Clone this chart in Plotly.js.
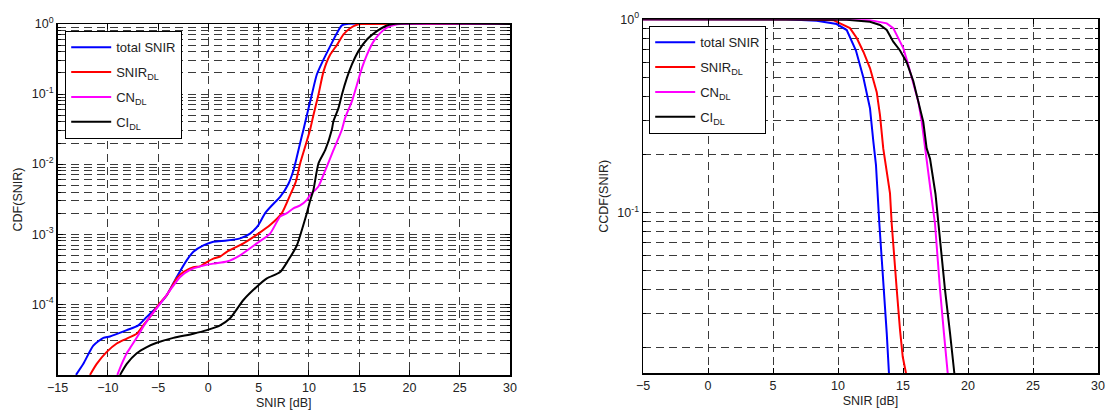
<!DOCTYPE html>
<html>
<head>
<meta charset="utf-8">
<script src="https://cdn.plot.ly/plotly-3.0.1.min.js"></script>
<style>html,body{margin:0;padding:0;background:#fff;}#chart{width:1107px;height:412px;}</style>
</head>
<body>
<div id="chart"></div>
<script>
// ---------- Left panel: CDF ----------
const cdfTotalX = [-13.16,-12.43,-11.44,-10.44,-9.78,-8.11,-6.96,-6.12,-5.13,-4.13,-3.14,-2.14,-1.49,-0.49,0.50,1.84,3.16,4.15,4.98,5.65,6.31,7.14,7.96,8.46,8.80,9.13,9.46,9.80,10.29,10.79,11.45,12.11,12.78,13.28,13.78,30];
const cdfTotalY = [9.8e-6,1.41e-5,2.57e-5,3.31e-5,3.47e-5,4.27e-5,5.0e-5,6.6e-5,9.1e-5,1.35e-4,2.45e-4,4.27e-4,5.6e-4,6.9e-4,7.8e-4,8.1e-4,8.7e-4,1.02e-3,1.35e-3,2.0e-3,2.57e-3,3.4e-3,5.2e-3,8.1e-3,0.0126,0.020,0.031,0.050,0.098,0.19,0.31,0.48,0.74,0.955,1,1];

const cdfSnirX = [-11.77,-11.10,-10.10,-9.11,-8.11,-7.12,-6.46,-5.80,-4.97,-4.13,-3.14,-2.48,-1.49,-0.82,-0.15,0.50,1.17,1.84,3.49,4.98,6.14,7.31,8.13,8.70,9.13,9.63,10.12,10.45,10.95,11.45,12.11,12.78,13.44,14.10,14.77,15.27,30];
const cdfSnirY = [9.8e-6,1.41e-5,2.09e-5,2.75e-5,3.24e-5,3.8e-5,5.0e-5,6.6e-5,9.8e-5,1.35e-4,2.34e-4,2.88e-4,3.39e-4,3.47e-4,4.0e-4,4.47e-4,4.8e-4,5.6e-4,7.4e-4,1.02e-3,1.35e-3,2.0e-3,3.6e-3,5.6e-3,0.0102,0.0178,0.031,0.050,0.098,0.209,0.363,0.50,0.71,0.87,0.977,1,1];

const cdfCnX = [-9.05,-8.61,-8.11,-7.62,-6.96,-6.46,-5.80,-4.78,-3.81,-2.81,-1.82,-0.82,0.50,1.84,3.16,4.82,6.14,7.14,7.81,8.46,9.13,9.80,10.12,10.95,11.62,12.44,13.28,13.61,14.28,14.77,15.27,15.77,16.42,17.09,17.76,18.58,19.08,30];
const cdfCnY = [9.8e-6,1.41e-5,2.0e-5,2.57e-5,3.63e-5,4.8e-5,6.6e-5,1.02e-4,1.58e-4,2.45e-4,3.09e-4,3.47e-4,3.8e-4,4.07e-4,5.0e-4,7.4e-4,1.02e-3,1.78e-3,2.0e-3,2.34e-3,2.57e-3,3.09e-3,3.63e-3,4.8e-3,8.1e-3,0.0158,0.031,0.046,0.079,0.135,0.234,0.363,0.56,0.74,0.89,0.977,1,1];

const cdfCiX = [-8.78,-8.11,-7.12,-6.12,-5.13,-3.48,-1.49,-0.15,1.17,2.16,3.49,4.82,5.82,7.14,7.96,8.80,9.30,9.80,10.12,10.45,10.95,11.62,12.28,12.44,12.94,13.28,13.78,14.27,14.93,15.77,16.76,17.59,18.41,30];
const cdfCiY = [9.8e-6,1.41e-5,2.0e-5,2.45e-5,2.82e-5,3.31e-5,3.8e-5,4.27e-5,5.0e-5,6.3e-5,1.15e-4,1.78e-4,2.34e-4,2.88e-4,4.27e-4,6.9e-4,1.15e-3,2.0e-3,3.0e-3,4.27e-3,0.0102,0.0158,0.031,0.041,0.063,0.098,0.17,0.263,0.41,0.60,0.79,0.93,1,1];

// ---------- Right panel: CCDF ----------
const ccdfTotalX = [-5,6.0,8.36,9.90,10.67,11.38,11.95,12.46,12.72,12.92,13.18,13.36,13.56,13.75,13.92,14.0];
const ccdfTotalY = [1,1,0.984,0.945,0.88,0.69,0.50,0.347,0.233,0.177,0.088,0.059,0.040,0.0238,0.0148,0.0121];

const ccdfSnirX = [-5,7.0,9.64,10.92,11.44,11.95,12.46,12.98,13.23,13.48,13.75,14.0,14.13,14.31,14.52,14.77,14.98,15.23];
const ccdfSnirY = [1,1,0.99,0.90,0.80,0.68,0.56,0.42,0.32,0.215,0.163,0.126,0.088,0.059,0.040,0.0248,0.018,0.0148];

const ccdfCnX = [-5,10.0,12.46,13.75,14.25,14.64,15.02,15.41,15.79,16.18,16.44,16.69,16.90,17.12,17.46,17.64,17.85,18.15,18.44];
const ccdfCnY = [1,1,0.99,0.953,0.90,0.80,0.71,0.58,0.475,0.375,0.296,0.224,0.177,0.131,0.088,0.059,0.040,0.0238,0.0148];

const ccdfCiX = [-5,9.0,10.67,12.46,13.23,13.75,14.25,14.77,15.28,15.79,16.18,16.56,16.82,17.08,17.50,17.72,17.98,18.23,18.62,18.95];
const ccdfCiY = [1,1,0.995,0.972,0.935,0.88,0.766,0.69,0.60,0.48,0.375,0.295,0.215,0.19,0.125,0.088,0.059,0.040,0.0238,0.0148];

const seriesNames = ['total SNIR','SNIR<sub>DL</sub>','CN<sub>DL</sub>','CI<sub>DL</sub>'];
const seriesColors = ['#0000ff','#ff0000','#ff00ff','#000000'];

const leftTickVals = [1e-4,1e-3,1e-2,1e-1,1];
const leftTickText = ['10<sup>-4</sup>','10<sup>-3</sup>','10<sup>-2</sup>','10<sup>-1</sup>','10<sup>0</sup>'];
const rightTickVals = [1e-1,1];
const rightTickText = ['10<sup>-1</sup>','10<sup>0</sup>'];

function minorVals(lo, hi){
  const v=[];
  for(let e=lo;e<hi;e++){ for(let m=2;m<=9;m++){ v.push(m*Math.pow(10,e)); } }
  return v;
}

const leftData = [[cdfTotalX,cdfTotalY],[cdfSnirX,cdfSnirY],[cdfCnX,cdfCnY],[cdfCiX,cdfCiY]];
const rightData = [[ccdfTotalX,ccdfTotalY],[ccdfSnirX,ccdfSnirY],[ccdfCnX,ccdfCnY],[ccdfCiX,ccdfCiY]];

const traces = [];
leftData.forEach((d,i)=>{
  traces.push({x:d[0], y:d[1], xaxis:'x', yaxis:'y', type:'scatter', mode:'lines',
    name:seriesNames[i], legend:'legend', legendgroup:'L'+i,
    line:{color:seriesColors[i], width:2, shape:'spline', smoothing:0.6}});
});
rightData.forEach((d,i)=>{
  traces.push({x:d[0], y:d[1], xaxis:'x2', yaxis:'y2', type:'scatter', mode:'lines',
    name:seriesNames[i], legend:'legend2', legendgroup:'R'+i,
    line:{color:seriesColors[i], width:2}});
});

const gridCol = '#3a3a3a';
const gridDash = '8px,5px';
const fontFam = '"Liberation Sans", Arial, sans-serif';

function xAxis(domain, range, anchor, tv){
  return {domain:domain, range:range, anchor:anchor, tickvals:tv,
    ticks:'inside', ticklen:5, tickcolor:'#000', showline:true, linecolor:'#000', linewidth:1.5,
    mirror:'ticks', showgrid:true, gridcolor:gridCol, griddash:gridDash, gridwidth:1,
    zeroline:false, automargin:false, tickfont:{size:12.5, color:'#222'},
    title:{text:'SNIR [dB]', font:{size:12.5, color:'#222'}, standoff:4}};
}
function yAxis(domain, range, anchor, tv, tt, mv, title){
  return {domain:domain, type:'log', range:range, anchor:anchor, tickvals:tv, ticktext:tt,
    ticks:'inside', ticklen:5, tickcolor:'#000', showline:true, linecolor:'#000', linewidth:1.5,
    mirror:'ticks', showgrid:true, gridcolor:gridCol, griddash:gridDash, gridwidth:1,
    zeroline:false, automargin:false, tickfont:{size:12.5, color:'#222'},
    minor:{tickvals:mv, ticks:'inside', ticklen:3, tickcolor:'#000', showgrid:true,
      gridcolor:gridCol, griddash:gridDash, gridwidth:1},
    title:{text:title, font:{size:12.5, color:'#222'}, standoff:6}};
}

function legendBox(x, y){
  return {x:x, y:y, xanchor:'left', yanchor:'top', bgcolor:'#fff',
    bordercolor:'#000', borderwidth:1.2, font:{size:13, color:'#222'},
    tracegroupgap:5, itemwidth:40};
}

const layout = {
  width:1107, height:412,
  margin:{l:0,r:0,t:0,b:0},
  paper_bgcolor:'#fff', plot_bgcolor:'#fff',
  font:{family:fontFam, size:12, color:'#222'},
  showlegend:true,
  xaxis: xAxis([57.5/1107, 510/1107], [-15,30], 'y', [-15,-10,-5,0,5,10,15,20,25,30]),
  yaxis: yAxis([1-375/412, 1-24/412], [-5.01,0], 'x', leftTickVals, leftTickText, minorVals(-5,0), 'CDF(SNIR)'),
  xaxis2: xAxis([643/1107, 1098/1107], [-5,30], 'y2', [-5,0,5,10,15,20,25,30]),
  yaxis2: yAxis([1-373.3/412, 1-19.3/412], [-1.83,0], 'x2', rightTickVals, rightTickText, minorVals(-2,0), 'CCDF(SNIR)'),
  legend: legendBox(65/1107, 1-31/412),
  legend2: legendBox(649/1107, 1-26/412)
};

Plotly.newPlot('chart', traces, layout, {staticPlot:true, displayModeBar:false});
</script>
</body>
</html>
